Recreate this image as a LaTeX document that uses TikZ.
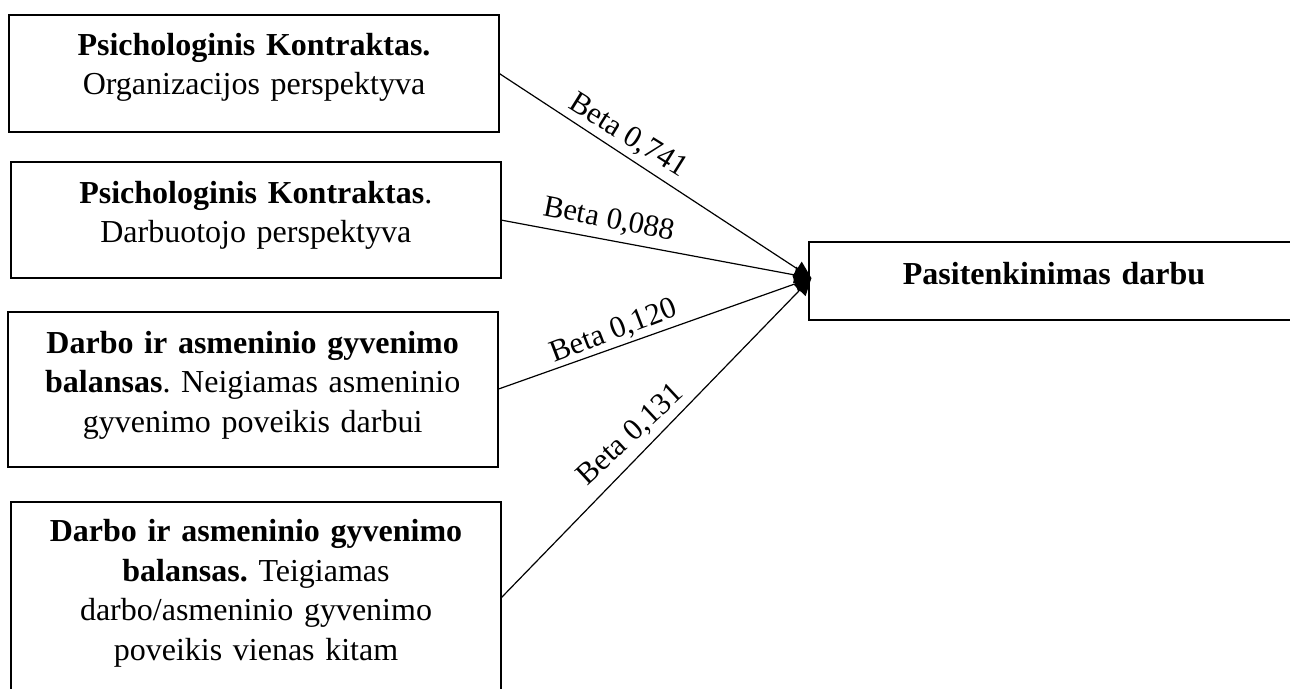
\documentclass[tikz,border=0pt]{standalone}
\usepackage{fontspec}
\setmainfont{Liberation Serif}
\usetikzlibrary{arrows.meta}

\tikzset{
  factor/.style={draw, line width=0.75pt, inner sep=0pt, outer sep=0pt,
    minimum width=183.75pt},
  boxtext/.style={anchor=base, text width=178pt, align=center, inner sep=0pt,
    font=\fontsize{12}{14.8}\selectfont},
  link/.style={line width=0.45pt, -{Triangle[length=6.4pt,width=6.2pt]}},
  beta/.style={inner sep=0pt, font=\fontsize{11.5}{13}\selectfont}
}

\begin{document}
\frenchspacing
\begin{tikzpicture}[x=0.375pt, y=-0.375pt]
  \useasboundingbox (0,0) rectangle (1290,688);
  \clip (0,0) rectangle (1290,688);

  % predictor boxes
  \node[factor, minimum height=43.75pt] (b1) at (254,73.3) {};
  \node[factor, minimum height=43.5pt]  (b2) at (255.8,220) {};
  \node[factor, minimum height=58pt]    (b3) at (252.7,389.3) {};
  \node[factor, minimum height=72.2pt]  (b4) at (256,598) {};
  % outcome box
  \node[factor, minimum height=29.25pt] (tgt) at (1054,281) {};

  \node[boxtext] (t1) at (254,55)
    {\textbf{Psichologinis Kontraktas.}\\Organizacijos perspektyva};
  \node[boxtext] (t2) at (255.8,203.3)
    {\textbf{Psichologinis Kontraktas}.\\Darbuotojo perspektyva};
  \node[boxtext] (t3) at (252.7,353.3)
    {\textbf{Darbo ir asmeninio gyvenimo}\\\textbf{balansas}. Neigiamas asmeninio\\gyvenimo poveikis darbui};
  \node[boxtext] (t4) at (256,541.7)
    {\textbf{Darbo ir asmeninio gyvenimo}\\\textbf{balansas.} Teigiamas\\darbo/asmeninio gyvenimo\\poveikis vienas kitam};
  \node[boxtext] (tt) at (1054,284) {\textbf{Pasitenkinimas darbu}};

  % arrows meet just inside the outcome box
  \coordinate (hub) at ([xshift=0.9pt, yshift=1.1pt]tgt.west);
  \draw[link] (b1.east) -- (hub);
  \draw[link] (b2.east) -- (hub);
  \draw[link] (b3.east) -- (hub);
  \draw[link] (b4.east) -- (hub);

  % path coefficients
  \node[beta, rotate=-32] (l1) at (628,136)   {Beta 0,741};
  \node[beta, rotate=-11] (l2) at (609,220)   {Beta 0,088};
  \node[beta, rotate=21]  (l3) at (614,331.5) {Beta 0,120};
  \node[beta, rotate=43]  (l4) at (631,435)   {Beta 0,131};
\end{tikzpicture}
\end{document}
